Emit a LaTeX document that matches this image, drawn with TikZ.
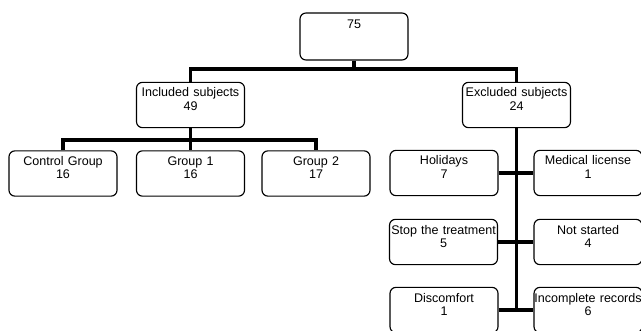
\documentclass[tikz,border=0pt]{standalone}
\usepackage{fontspec}
\setmainfont{Liberation Sans}
\usetikzlibrary{positioning}

\begin{document}
\begin{tikzpicture}[x=0.75pt,y=-0.75pt,
  every node/.style={font=\fontsize{9.4}{10}\selectfont,align=center,},%
  bx/.style={draw,rounded corners=4.5pt,line width=0.85pt,inner sep=0pt,%
    text width=81pt,text height=11pt,text depth=23pt,},%
  e/.style={line width=2.4pt,},%
  ]
  \useasboundingbox (0,0) rectangle (641,331);
  \node (all) [bx,text height=12pt,text depth=23.25pt] at (354,36.5) {75};
  \node (inc) [bx] at (190.5,105) {Included subjects\\49};
  \node (exc) [bx] at (516.5,105) {Excluded subjects\\24};
  \node (ctl) [bx] at (63,173.5) {Control Group\\16};
  \node (g1) [bx] at (190.5,173.5) {Group 1\\16};
  \node (g2) [bx] at (316,173.5) {Group 2\\17};
  \node (hol) [bx] at (444,173) {Holidays\\7};
  \node (med) [bx] at (588,173) {Medical license\\1};
  \node (stp) [bx] at (443.5,242) {Stop the treatment\\5};
  \node (nst) [bx] at (588,242) {Not started\\4};
  \node (dis) [bx] at (444,310) {Discomfort\\1};
  \node (icr) [bx] at (588,310) {Incomplete records\\6};
  \coordinate (j1) at (354,69);
  \coordinate (j2) at (190.5,140);
  \draw [e] (all) -- (j1);
  \draw [e] (inc.north) |- (j1) -| (exc.north);
  \draw [e] (inc) -- (g1);
  \draw [e] (ctl.north) |- (j2) -| (g2.north);
  \draw [e] (exc.south) -- (exc.south |- dis.east);
  \draw [e] (hol) -- (med);
  \draw [e] (stp) -- (nst);
  \draw [e] (dis) -- (icr);
\end{tikzpicture}
\end{document}
